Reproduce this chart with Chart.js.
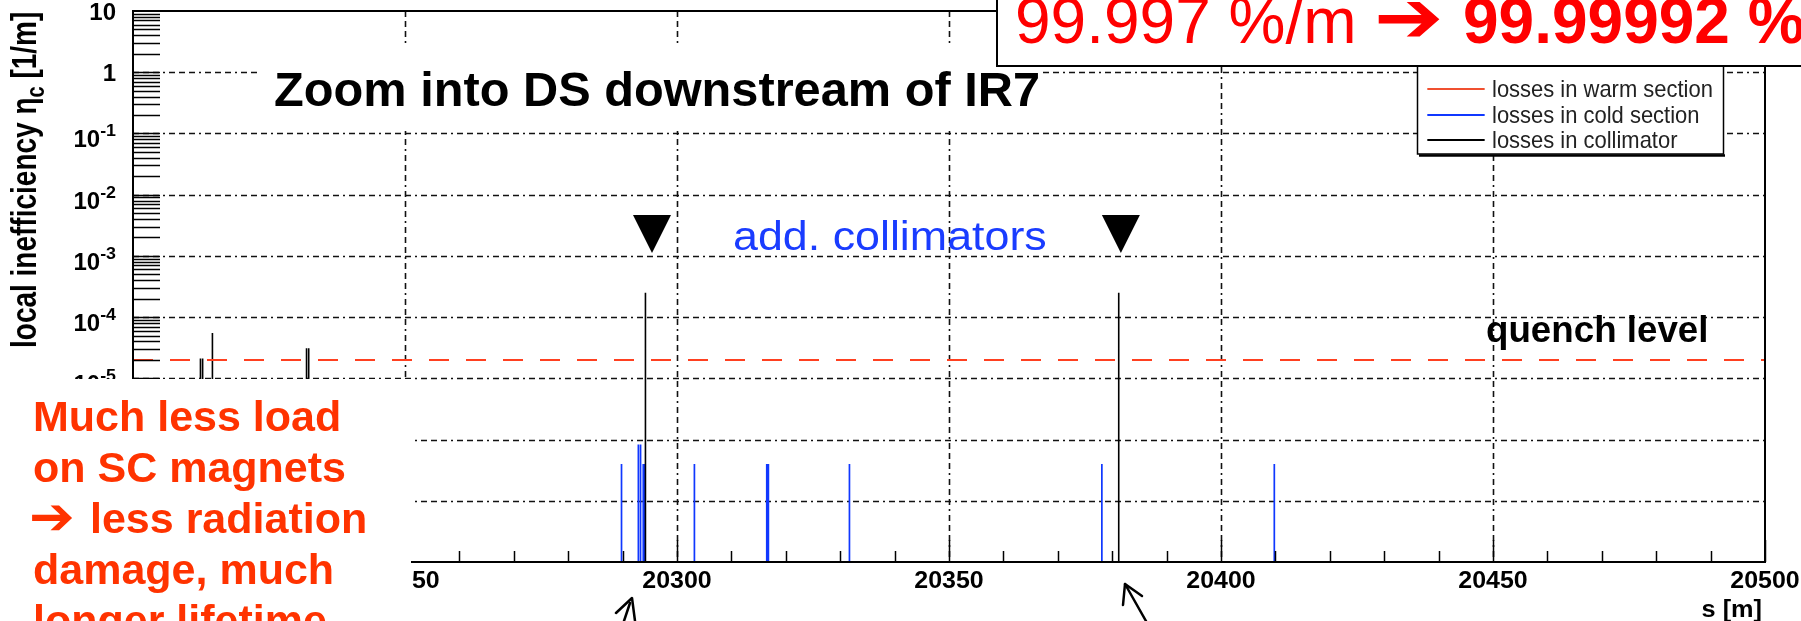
<!DOCTYPE html>
<html>
<head>
<meta charset="utf-8">
<script src="https://cdn.jsdelivr.net/npm/chart.js@4/dist/chart.umd.min.js"></script>
<style>
html,body{margin:0;padding:0;background:#fff;overflow:hidden;}
canvas{display:block;}
</style>
</head>
<body>
<canvas id="c" width="1801" height="621"></canvas>
<script>
// ---------------- data ----------------
const X_MIN = 20200, X_MAX = 20500;
const Y_MIN = 1e-8, Y_MAX = 10;
const xTickValues = [20200, 20250, 20300, 20350, 20400, 20450, 20500];
const xTickLabels = ['20200', '20250', '20300', '20350', '20400', '20450', '20500'];
const yTickValues = [10, 1, 1e-1, 1e-2, 1e-3, 1e-4, 1e-5, 1e-6, 1e-7, 1e-8];
const yTickLabels = ['10', '1', '10^-1', '10^-2', '10^-3', '10^-4', '10^-5', '10^-6', '10^-7', '10^-8'];
const seriesLabels = ['losses in warm section', 'losses in cold section', 'losses in collimator'];
const warmPos = [];
const warmVal = [];
const coldPos = [20289.8, 20292.9, 20293.3, 20293.8, 20294.1, 20303.2, 20316.5, 20316.8, 20331.7, 20378.1, 20409.8];
const coldVal = [4e-7, 8.3e-7, 8.3e-7, 4e-7, 4e-7, 4e-7, 4e-7, 4e-7, 4e-7, 4e-7, 4e-7];
const collPos = [20212.4, 20212.8, 20214.6, 20231.9, 20232.3, 20294.2, 20381.2];
const collVal = [2.1e-5, 2.1e-5, 5.5e-5, 3.1e-5, 3.1e-5, 2.5e-4, 2.5e-4];
const quenchLevel = 2e-5;
const markerPos = [20295.4, 20381.6];
const titleText = 'Zoom into DS downstream of IR7';
const quenchText = 'quench level';
const addCollText = 'add. collimators';
const noteLines = ['Much less load', 'on SC magnets', '\u2794|less radiation', 'damage, much', 'longer lifetime'];
const effBefore = '99.997 %/m';
const effAfter = '99.99992 %';
const xTitle = 's [m]';

// ------------- helpers ---------------
function spikes(pos, val) {
  const pts = [];
  pos.forEach((p, i) => { pts.push({x: p, y: Y_MIN}, {x: p, y: val[i]}, {x: p, y: null}); });
  return pts;
}
function txt(ctx, s, x, y, font, color, align, sx) {
  align = align || 'left'; sx = sx || 1;
  ctx.save();
  ctx.font = font; ctx.fillStyle = color; ctx.textBaseline = 'alphabetic'; ctx.textAlign = 'left';
  const w = ctx.measureText(s).width * sx;
  const x0 = align === 'right' ? x - w : (align === 'center' ? x - w / 2 : x);
  ctx.translate(x0, y); ctx.scale(sx, 1); ctx.fillText(s, 0, 0);
  ctx.restore();
  return w;
}
function line(ctx, pts, w, color) {
  ctx.save(); ctx.strokeStyle = color; ctx.lineWidth = w; ctx.lineCap = 'round'; ctx.lineJoin = 'round';
  ctx.beginPath(); ctx.moveTo(pts[0][0], pts[0][1]);
  for (let i = 1; i < pts.length; i++) ctx.lineTo(pts[i][0], pts[i][1]);
  ctx.stroke(); ctx.restore();
}

const GRID_DASH = [6, 4, 6, 4, 6, 4, 2, 4];
const RED_Q = '#ff4020';
const BLUE = '#1038ff';
const LF = '"Liberation Sans", Arial, Helvetica, sans-serif';

const overlay = {
  id: 'overlay',
  beforeDatasetsDraw(chart) {
    const ctx = chart.ctx, xs = chart.scales.x, ys = chart.scales.y, a = chart.chartArea;
    ctx.save();
    ctx.strokeStyle = '#111'; ctx.lineWidth = 1.6; ctx.setLineDash(GRID_DASH);
    xTickValues.forEach(v => {
      if (v === X_MIN || v === X_MAX) return;
      const px = Math.round(xs.getPixelForValue(v)) + 0.5;
      ctx.beginPath(); ctx.moveTo(px, a.top); ctx.lineTo(px, a.bottom); ctx.stroke();
    });
    yTickValues.forEach(v => {
      if (v >= Y_MAX || v <= Y_MIN) return;
      const py = Math.round(ys.getPixelForValue(v)) + 0.5;
      ctx.beginPath(); ctx.moveTo(a.left, py); ctx.lineTo(a.right, py); ctx.stroke();
    });
    ctx.restore();
  },
  afterDatasetsDraw(chart) {
    const ctx = chart.ctx, xs = chart.scales.x, ys = chart.scales.y, a = chart.chartArea;
    // title background + title
    ctx.fillStyle = '#fff';
    ctx.fillRect(257, 47, 785, 84);
    txt(ctx, titleText, 274, 106, 'bold 48px ' + LF, '#000', 'left', 1.015);

    // frame
    ctx.save(); ctx.strokeStyle = '#000'; ctx.lineWidth = 2;
    ctx.strokeRect(a.left, a.top, a.right - a.left, a.bottom - a.top);
    ctx.restore();
    // inner ticks x
    ctx.save(); ctx.strokeStyle = '#000'; ctx.lineWidth = 1.5;
    for (let s = X_MIN; s <= X_MAX; s += 10) {
      const px = Math.round(xs.getPixelForValue(s)) + 0.5;
      const len = (s % 50 === 0) ? 22 : 11;
      ctx.beginPath(); ctx.moveTo(px, a.bottom); ctx.lineTo(px, a.bottom - len); ctx.stroke();
    }
    // inner ticks y (major + minor)
    for (let e = -8; e <= 0; e++) {
      for (let k = 1; k <= 9; k++) {
        const v = k * Math.pow(10, e);
        if (v <= Y_MIN || v >= Y_MAX) continue;
        const py = Math.round(ys.getPixelForValue(v)) + 0.5;
        ctx.beginPath(); ctx.moveTo(a.left, py); ctx.lineTo(a.left + 27, py); ctx.stroke();
      }
    }
    ctx.restore();

    // y tick labels
    yTickValues.forEach((v, i) => {
      const py = ys.getPixelForValue(v);
      const parts = yTickLabels[i].split('^');
      const right = 116;
      if (parts.length === 2) {
        ctx.save(); ctx.font = 'bold 17px ' + LF;
        const ew = ctx.measureText(parts[1]).width * 1.05; ctx.restore();
        txt(ctx, parts[1], right - ew, py + 3, 'bold 17px ' + LF, '#000', 'left', 1.05);
        txt(ctx, parts[0], right - ew, py + 14, 'bold 24px ' + LF, '#000', 'right', 1.0);
      } else {
        txt(ctx, parts[0], right, py + 9, 'bold 24px ' + LF, '#000', 'right', 1.0);
      }
    });
    // x tick labels
    xTickValues.forEach((v, i) => {
      const px = xs.getPixelForValue(v);
      txt(ctx, xTickLabels[i], px, 588, 'bold 24px ' + LF, '#000', 'center', 1.04);
    });
    txt(ctx, xTitle, 1762, 617, 'bold 23px ' + LF, '#000', 'right', 1.1);

    // y title (rotated)
    ctx.save();
    ctx.translate(36, 348); ctx.rotate(-Math.PI / 2); ctx.scale(1, 1.25);
    let cx = 0;
    cx += txt(ctx, 'local inefficiency ', cx, 0, 'bold 28px ' + LF, '#000');
    cx += txt(ctx, '\u03b7', cx, 0, 'bold 28px ' + LF, '#000');
    cx += txt(ctx, 'c', cx, 6, 'bold 20px ' + LF, '#000');
    txt(ctx, ' [1/m]', cx, 0, 'bold 28px ' + LF, '#000');
    ctx.restore();

    // annotations
    txt(ctx, quenchText, 1486, 342, 'bold 36px ' + LF, '#000', 'left', 1.02);
    txt(ctx, addCollText, 733, 250, '40px ' + LF, '#1a3cff', 'left', 1.12);
    markerPos.forEach(s => {
      const px = xs.getPixelForValue(s);
      ctx.save(); ctx.fillStyle = '#000'; ctx.beginPath();
      ctx.moveTo(px - 19, 215); ctx.lineTo(px + 19, 215); ctx.lineTo(px, 253); ctx.closePath(); ctx.fill(); ctx.restore();
    });

    // legend
    ctx.save();
    ctx.fillStyle = '#fff'; ctx.fillRect(1417, 40, 307, 114);
    ctx.strokeStyle = '#000'; ctx.lineWidth = 1.5; ctx.strokeRect(1417.5, 40, 306, 114);
    ctx.lineWidth = 2.5; ctx.beginPath(); ctx.moveTo(1419, 155.5); ctx.lineTo(1725, 155.5); ctx.stroke();
    ctx.restore();
    const legColors = [chart.data.datasets[0].borderColor, chart.data.datasets[1].borderColor, chart.data.datasets[2].borderColor];
    const rowY = [89, 115, 140];
    seriesLabels.forEach((lab, i) => {
      line(ctx, [[1428, rowY[i]], [1484, rowY[i]]], 1.8, legColors[i]);
      txt(ctx, lab, 1492, rowY[i] + 8, '24px ' + LF, '#222', 'left', 0.915);
    });

    // top-right efficiency box
    ctx.save();
    ctx.fillStyle = '#fff'; ctx.fillRect(996, -10, 830, 76);
    ctx.strokeStyle = '#000'; ctx.lineWidth = 2; ctx.strokeRect(997, -10, 830, 76);
    ctx.restore();
    txt(ctx, effBefore, 1015, 43, '64px ' + LF, '#ff0000');
    txt(ctx, '\u2794', 1374, 42, 'bold 72px "DejaVu Sans", ' + LF, '#ff0000', 'left', 1.15);
    txt(ctx, effAfter, 1463, 43, 'bold 64px ' + LF, '#ff0000');

    // lower-left note box
    ctx.fillStyle = '#fff'; ctx.fillRect(0, 379, 411, 242);
    noteLines.forEach((l, i) => {
      const y = 431 + i * 51;
      const parts = l.split('|');
      if (parts.length === 2) {
        txt(ctx, parts[0], 29, y + 1, 'bold 52px "DejaVu Sans", ' + LF, '#ff3300', 'left', 1.05);
        txt(ctx, parts[1], 90, y, 'bold 43px ' + LF, '#ff3300');
      } else {
        txt(ctx, l, 33, y, 'bold 43px ' + LF, '#ff3300');
      }
    });

    // hand drawn arrows
    line(ctx, [[616, 613], [632, 598], [635, 621]], 2.5, '#000');
    line(ctx, [[624, 621], [630, 603]], 2.5, '#000');
    line(ctx, [[1123, 605], [1125, 584], [1142, 596]], 2.5, '#000');
    line(ctx, [[1125, 584], [1146, 621]], 2.5, '#000');
  }
};

new Chart(document.getElementById('c'), {
  type: 'line',
  data: {
    datasets: [
      { label: seriesLabels[0], data: spikes(warmPos, warmVal), borderColor: '#f05030', borderWidth: 1.6, pointRadius: 0, spanGaps: false, order: 3 },
      { label: seriesLabels[1], data: spikes(coldPos, coldVal), borderColor: BLUE, borderWidth: 1.7, pointRadius: 0, spanGaps: false, order: 2 },
      { label: seriesLabels[2], data: spikes(collPos, collVal), borderColor: '#000', borderWidth: 1.6, pointRadius: 0, spanGaps: false, order: 1 },
      { label: 'quench level', data: [{x: X_MIN, y: quenchLevel}, {x: X_MAX, y: quenchLevel}], borderColor: RED_Q, borderWidth: 2, borderDash: [20, 17], pointRadius: 0, order: 0 }
    ]
  },
  options: {
    responsive: false,
    animation: false,
    devicePixelRatio: 1,
    layout: { padding: { left: 133, top: 11, right: 36, bottom: 59 } },
    plugins: { legend: { display: false }, tooltip: { enabled: false }, title: { display: false } },
    scales: {
      x: { type: 'linear', min: X_MIN, max: X_MAX, display: false },
      y: { type: 'logarithmic', min: Y_MIN, max: Y_MAX, display: false }
    }
  },
  plugins: [overlay]
});
</script>
</body>
</html>
